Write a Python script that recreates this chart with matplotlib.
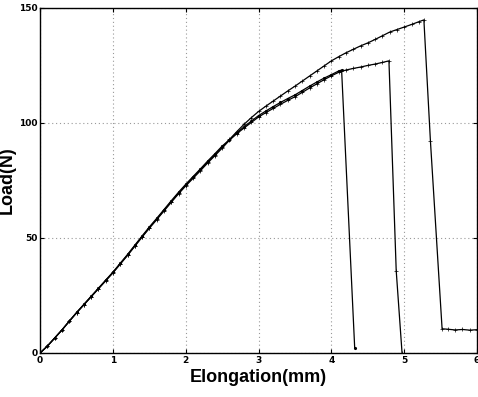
import numpy as np
import matplotlib.pyplot as plt

# tramo comun (0 - 2.5 mm)
x_com = [0.0, 0.1, 0.2, 0.3, 0.4, 0.5, 0.6, 0.7, 0.8, 0.9, 1.0, 1.1, 1.2,
         1.3, 1.4, 1.5, 1.6, 1.7, 1.8, 1.9, 2.0, 2.1, 2.2, 2.3, 2.4, 2.5]
y_com = [0, 3, 6.5, 10, 13.8, 17.5, 21, 24.5, 28, 31.5, 35, 38.8, 42.6,
         46.6, 50.6, 54.5, 58.2, 62, 65.8, 69.5, 73, 76.3, 79.6, 83, 86.2, 89.5]

# probeta 1
x_a = [2.6, 2.7, 2.8, 2.9, 3.0, 3.1, 3.2, 3.3, 3.4, 3.5, 3.6, 3.7, 3.8, 3.9,
       4.0, 4.1, 4.2, 4.3, 4.4, 4.5, 4.6, 4.7, 4.8, 4.9, 5.0, 5.1, 5.2, 5.27,
       5.36, 5.52, 5.6, 5.7, 5.8, 5.9, 6.0]
y_a = [92.8, 96.2, 99.4, 102.3, 105, 107.3, 109.5, 111.7, 113.9, 116, 118.2,
       120.4, 122.6, 124.8, 127, 128.8, 130.5, 132, 133.5, 134.8, 136.3, 137.9,
       139.5, 140.6, 141.7, 142.8, 144, 144.8, 92, 10.5, 10.3, 10.0, 10.2, 9.9, 10.1]

# probeta 2
x_b = [2.6, 2.7, 2.8, 2.9, 3.0, 3.1, 3.2, 3.3, 3.4, 3.5, 3.6, 3.7, 3.8, 3.9,
       4.0, 4.1, 4.2, 4.3, 4.4, 4.5, 4.6, 4.7, 4.79, 4.89, 4.97]
y_b = [92.5, 95.3, 97.8, 100.2, 102.6, 104.5, 106.3, 108.1, 109.8, 111.4,
       113.3, 115.2, 117, 118.8, 120.5, 122, 123, 123.7, 124.3, 125, 125.6,
       126.3, 127, 35.7, 0]

# probeta 3
x_c = [2.6, 2.7, 2.8, 2.9, 3.0, 3.1, 3.2, 3.3, 3.4, 3.5, 3.6, 3.7, 3.8, 3.9,
       4.0, 4.1, 4.14, 4.32]
y_c = [92.7, 95.7, 98.3, 100.8, 103.2, 105.2, 107.1, 108.9, 110.6, 112.2,
       114.1, 116, 117.8, 119.5, 121, 122.6, 123, 2]

xa = x_com + x_a
ya = y_com + y_a
xb = x_com + x_b
yb = [v*0.995 for v in y_com] + y_b
xc = x_com + x_c
yc = [v*1.005 for v in y_com] + y_c

fig = plt.figure(figsize=(4.78, 3.97), dpi=100)
ax = fig.add_axes([0.084, 0.111, 0.914, 0.869])

ax.plot(xa, ya, '-', color='black', lw=0.9, marker='+', ms=3, mew=0.5)
ax.plot(xb, yb, '-', color='black', lw=0.9, marker='+', ms=3, mew=0.5)
ax.plot(xc, yc, '-', color='black', lw=0.9, marker='.', ms=2.5)

ax.set_xlim(0, 6)
ax.set_ylim(0, 150)
ax.set_xticks(range(0, 7))
ax.set_yticks([0, 50, 100, 150])
ax.grid(True, linestyle=(0, (1, 2.5)), color='0.6', lw=0.8)
ax.tick_params(direction='in', length=3, top=True, right=True, pad=2,
               labelsize=6.5)
for lab in ax.get_xticklabels() + ax.get_yticklabels():
    lab.set_fontweight('bold')
for s in ax.spines.values():
    s.set_linewidth(1.0)

ax.set_xlabel('Elongation(mm)', fontsize=13, fontweight='bold',
              family='Liberation Sans', labelpad=3)
ax.set_ylabel('Load(N)', fontsize=13, fontweight='bold',
              family='Liberation Sans', labelpad=2)

fig.savefig('out.png', dpi=100)
